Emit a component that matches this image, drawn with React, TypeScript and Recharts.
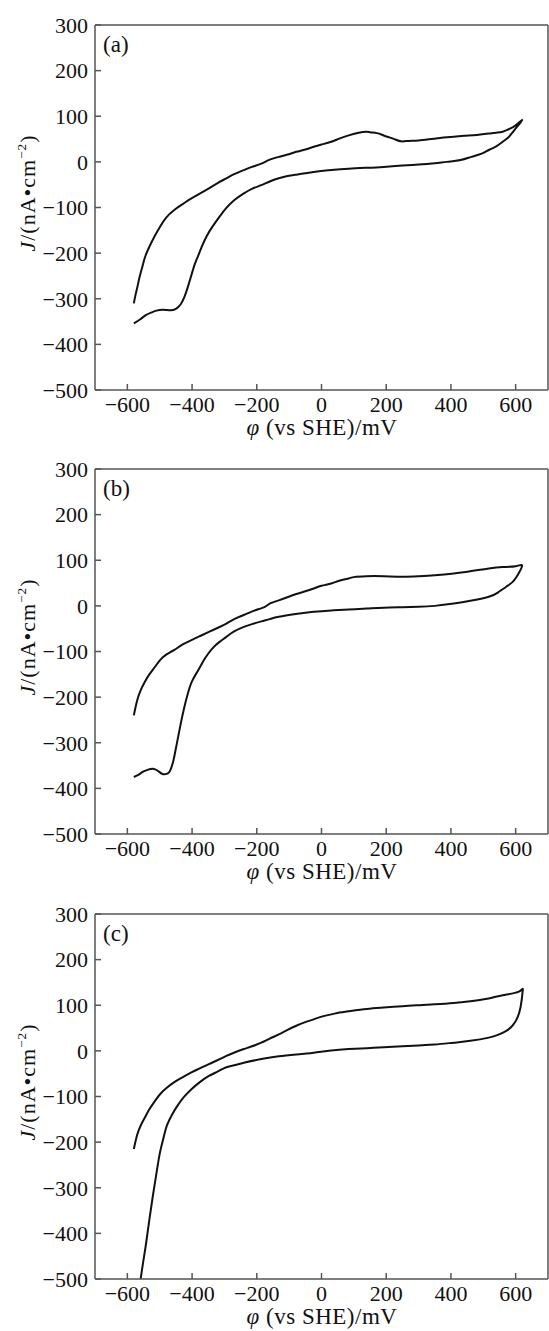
import { LineChart, Line, XAxis, YAxis, ReferenceLine } from 'recharts';

// axis ticks (mV / nA·cm^-2)
const X_TICKS = [-600, -400, -200, 0, 200, 400, 600];
const Y_TICKS = [300, 200, 100, 0, -100, -200, -300, -400, -500];

// panel (a): forward sweep then reverse sweep
const loopA_potential = [
  -580, -560, -543, -525, -510, -490, -467, -450, -435, -423, -413, -402, -391, -380, -370, -355, -337, -315, -294, -270,
  -240, -215, -186, -160, -132, -105, -78, -50, -24, 30, 84, 140, 192, 250, 300, 350, 387, 430, 463, 495, 517, 540, 560,
  578, 592, 608, 620,
  600, 580, 560, 540, 517, 480, 440, 409, 360, 300, 270, 246, 225, 203, 185, 171, 150, 138, 115, 84, 55, 30, 0, -24, -50,
  -78, -105, -132, -160, -186, -215, -240, -270, -294, -320, -348, -375, -402, -430, -456, -480, -499, -515, -532, -545,
  -553, -562, -569, -575, -580,
];
const loopA_current = [
  -354, -345, -336, -330, -326, -324, -325, -322, -312, -295, -274, -248, -223, -204, -186, -163, -142, -120, -101, -84,
  -69, -59, -51, -43, -36, -31, -28, -25, -22, -18, -15, -13, -11, -8, -6, -3, 0, 4, 11, 18, 26, 34, 44, 54, 66, 80, 92,
  80, 72, 66, 64, 62, 59, 57, 55, 52, 47, 46, 45, 50, 55, 60, 63, 65, 66, 64, 58, 51, 44, 38, 33, 27, 22, 16, 11, 5, -4,
  -11, -18, -27, -36, -46, -58, -69, -80, -93, -106, -122, -142, -162, -186, -208, -228, -252, -274, -292, -310,
];

// panel (b)
const loopB_potential = [
  -580, -565, -553, -540, -521, -505, -489, -475, -467, -458, -451, -443, -435, -424, -413, -400, -381, -360, -337, -315,
  -294, -270, -240, -215, -186, -160, -132, -80, -24, 30, 84, 140, 192, 250, 300, 350, 409, 460, 517, 545, 571, 590, 603,
  612, 620,
  600, 560, 517, 460, 409, 350, 300, 250, 192, 138, 100, 84, 55, 30, 0, -24, -50, -78, -105, -132, -160, -175, -210, -240,
  -270, -294, -320, -348, -375, -402, -430, -456, -480, -499, -515, -532, -545, -559, -570, -580,
];
const loopB_current = [
  -375, -370, -364, -360, -357, -362, -369, -367, -360, -340, -316, -287, -258, -222, -192, -165, -141, -115, -93, -79,
  -68, -56, -46, -40, -34, -29, -24, -18, -13, -10, -8, -6, -4, -3, -2, 0, 5, 11, 20, 29, 42, 52, 64, 75, 89,
  87, 85, 82, 76, 71, 67, 65, 64, 65, 65, 63, 60, 55, 49, 44, 38, 32, 26, 19, 12, 5, -2, -11, -20, -29, -39, -48, -57,
  -66, -75, -85, -97, -107, -119, -134, -150, -165, -185, -208, -240,
];

// panel (c)
const loopC_potential = [
  -559, -551, -543, -532, -521, -510, -499, -488, -478, -462, -445, -425, -402, -375, -348, -320, -294, -267, -240, -186,
  -132, -78, -24, 30, 84, 140, 192, 250, 300, 350, 409, 460, 517, 545, 571, 590, 603, 615, 622,
  610, 560, 517, 460, 409, 350, 300, 250, 192, 140, 84, 55, 30, 0, -24, -50, -78, -105, -132, -160, -186, -215, -240, -267,
  -294, -320, -348, -375, -402, -430, -456, -480, -499, -515, -532, -545, -559, -570, -580,
];
const loopC_current = [
  -500, -462, -426, -370, -317, -268, -222, -190, -164, -140, -120, -101, -84, -68, -55, -45, -36, -31, -26, -18, -12, -8,
  -4, 1, 4, 6, 8, 10, 12, 14, 18, 22, 29, 35, 44, 55, 69, 95, 133,
  130, 122, 115, 109, 105, 102, 100, 98, 95, 92, 87, 84, 80, 75, 69, 63, 55, 46, 36, 27, 18, 10, 4, -3, -11, -20, -29, -38,
  -47, -58, -69, -82, -95, -110, -128, -145, -164, -185, -215,
];

const FONT = '"Liberation Serif", "Times New Roman", serif';
const AXIS_COLOR = '#555';
const TEXT_COLOR = '#111';

const withMinus = (v: number) => String(v).replace('-', '\u2212');

function Panel({ top, height, tag, potential, current }: {
  top: number; height: number; tag: string; potential: number[]; current: number[];
}) {
  const rows = potential.map((p, i) => ({ phi: p, j: current[i] }));
  const tickStyle = { fill: TEXT_COLOR, fontSize: 22, fontFamily: FONT };
  return (
    <div style={{ position: 'absolute', left: 0, top, width: 549, height }}>
      <LineChart width={549} height={height} data={rows} margin={{ top: 25, right: 1, bottom: 0, left: 0 }}>
        <XAxis
          dataKey="phi"
          type="number"
          domain={[-700, 700]}
          ticks={X_TICKS}
          interval={0}
          height={height - 390}
          tickSize={-6}
          tickMargin={12}
          tickFormatter={withMinus}
          stroke={AXIS_COLOR}
          strokeWidth={1.5}
          tick={tickStyle}
          allowDataOverflow
        />
        <YAxis
          type="number"
          domain={[-500, 300]}
          ticks={Y_TICKS}
          interval={0}
          width={95}
          tickSize={-6}
          tickMargin={13}
          tickFormatter={withMinus}
          stroke={AXIS_COLOR}
          strokeWidth={1.5}
          tick={tickStyle}
          allowDataOverflow
        />
        <ReferenceLine y={300} stroke={AXIS_COLOR} strokeWidth={1.5} />
        <ReferenceLine x={700} stroke={AXIS_COLOR} strokeWidth={1.5} />
        <Line
          dataKey="j"
          type="natural"
          stroke="#111"
          strokeWidth={2}
          dot={false}
          activeDot={false}
          isAnimationActive={false}
        />
      </LineChart>

      {/* panel tag */}
      <div style={{ position: 'absolute', left: 103, top: 33, fontFamily: FONT, fontSize: 23, lineHeight: 1, color: TEXT_COLOR }}>
        ({tag})
      </div>

      {/* y title */}
      <div
        style={{
          position: 'absolute', left: 27, top: 193, transform: 'translate(-50%, -50%) rotate(-90deg)',
          whiteSpace: 'nowrap', fontFamily: FONT, fontSize: 22, lineHeight: 1, letterSpacing: 1, color: TEXT_COLOR,
        }}
      >
        <i>J</i>/(nA•cm<sup style={{ fontSize: '0.6em' }}>−2</sup>)
      </div>

      {/* x title */}
      <div
        style={{
          position: 'absolute', left: 322, top: 416, transform: 'translateX(-50%)',
          whiteSpace: 'nowrap', fontFamily: FONT, fontSize: 23, lineHeight: 1, letterSpacing: 0.5, color: TEXT_COLOR,
        }}
      >
        <i>φ</i> (vs SHE)/mV
      </div>
    </div>
  );
}

export default function App() {
  return (
    <div style={{ position: 'absolute', left: 0, top: 0, width: 549, height: 1331, overflow: 'hidden', background: '#fff' }}>
      <Panel top={0} height={443} tag="a" potential={loopA_potential} current={loopA_current} />
      <Panel top={444} height={443} tag="b" potential={loopB_potential} current={loopB_current} />
      <Panel top={889} height={442} tag="c" potential={loopC_potential} current={loopC_current} />
    </div>
  );
}
